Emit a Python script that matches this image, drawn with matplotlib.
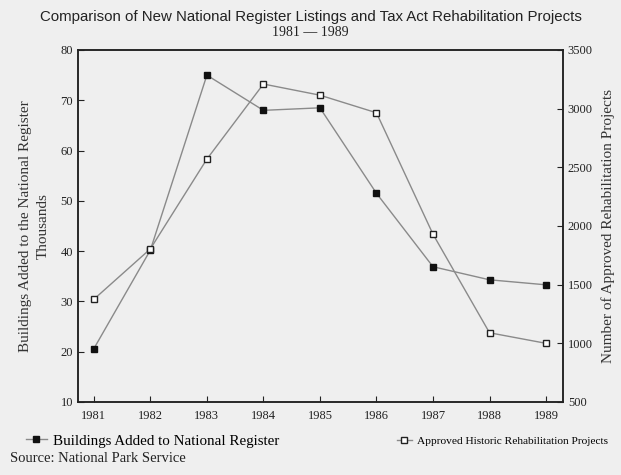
import matplotlib.pyplot as plt
from matplotlib.lines import Line2D

years = [1981, 1982, 1983, 1984, 1985, 1986, 1987, 1988, 1989]
buildings = [20.6, 40.2, 75.0, 68.0, 68.5, 51.5, 36.9, 34.3, 33.3]   # thousands
projects = [1375, 1805, 2570, 3210, 3115, 2965, 1930, 1090, 1000]

bg = '#efefef'
serif = ['Liberation Serif', 'DejaVu Serif']
sans = ['Liberation Sans', 'DejaVu Sans']
plt.rcParams['font.family'] = serif

fig = plt.figure(figsize=(6.21, 4.75), dpi=100, facecolor=bg)
ax = fig.add_axes([78 / 621, 73 / 475, 485 / 621, 352 / 475], facecolor=bg)
ax2 = ax.twinx()

ax.plot(years, buildings, color='#8a8a8a', lw=1.0, marker='s', ms=4.5,
        mfc='#111111', mec='#111111', zorder=3)
ax2.plot(years, projects, color='#8a8a8a', lw=1.0, marker='s', ms=5,
         mfc='white', mec='#222222', mew=1.0, zorder=3)

ax.set_xlim(1980.72, 1989.3)
ax.set_ylim(10, 80)
ax2.set_ylim(500, 3500)
ax.set_xticks(years)
ax.set_yticks(range(10, 81, 10))
ax2.set_yticks(range(500, 3501, 500))

for a in (ax, ax2):
    a.tick_params(direction='in', length=4, labelsize=9, colors='#222222', width=0.8)
    for s in a.spines.values():
        s.set_linewidth(1.1)
        s.set_color('#222222')
ax.tick_params(axis='x', pad=6)

ax.set_ylabel('Buildings Added to the National Register\nThousands',
              fontsize=11, color='#333333', labelpad=8, linespacing=1.4)
ax2.set_ylabel('Number of Approved Rehabilitation Projects', fontsize=11,
               color='#333333', labelpad=6)

fig.text(0.5, 0.955, 'Comparison of New National Register Listings and Tax Act Rehabilitation Projects',
         ha='center', fontsize=10.8, family=sans, color='#222222')
fig.text(0.5, 0.925, '1981 \u2014 1989', ha='center', fontsize=10, color='#222222')

h1 = Line2D([], [], color='#8a8a8a', lw=1.0, marker='s', ms=4, mfc='#111111', mec='#111111')
h2 = Line2D([], [], color='#8a8a8a', lw=1.0, marker='s', ms=4.5, mfc='white', mec='#222222')
fig.legend([h1], ['Buildings Added to National Register'], loc='center left',
           bbox_to_anchor=(0.02, 0.072), frameon=False, fontsize=10.8, handlelength=1.4,
           handletextpad=0.4)
fig.legend([h2], ['Approved Historic Rehabilitation Projects'], loc='center left',
           bbox_to_anchor=(0.622, 0.072), frameon=False, fontsize=8.2, handlelength=1.4,
           handletextpad=0.4)
fig.text(0.016, 0.027, 'Source: National Park Service', fontsize=10.5, color='#222222')

fig.savefig('out.png', dpi=100, facecolor=bg)
